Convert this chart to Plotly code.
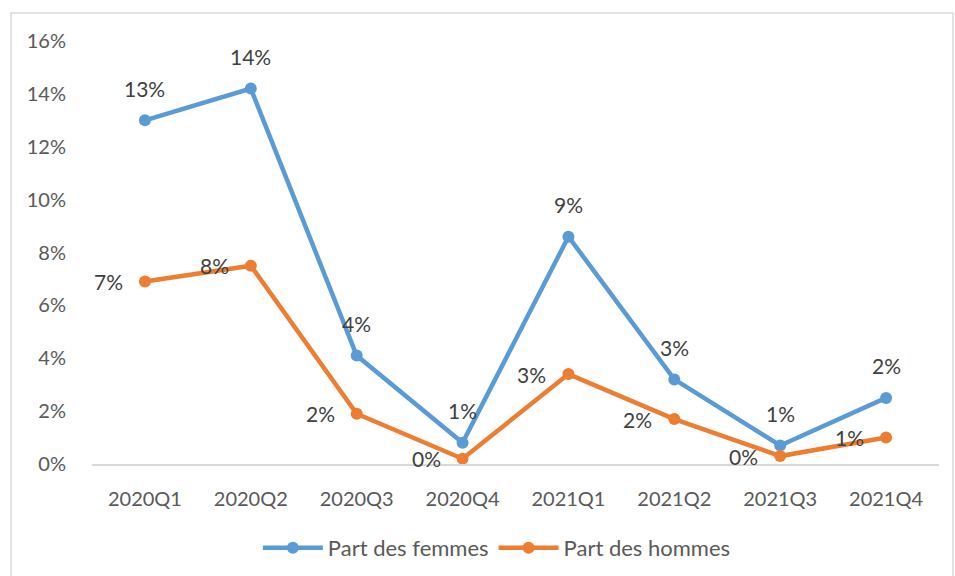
import plotly.graph_objects as go

quarters = ["2020Q1", "2020Q2", "2020Q3", "2020Q4", "2021Q1", "2021Q2", "2021Q3", "2021Q4"]
part_femmes = [0.130, 0.142, 0.041, 0.008, 0.086, 0.032, 0.007, 0.025]
part_hommes = [0.069, 0.075, 0.019, 0.002, 0.034, 0.017, 0.003, 0.010]
y_ticks = [0, 0.02, 0.04, 0.06, 0.08, 0.10, 0.12, 0.14, 0.16]

FONT = "Lato, 'Open Sans', sans-serif"
TXT = "#404040"
AX = "#595959"

fig = go.Figure()
fig.add_trace(go.Scatter(
    x=quarters, y=part_femmes, name="Part des femmes",
    mode="lines+markers",
    line=dict(color="#5B9BD5", width=4.5),
    marker=dict(color="#5B9BD5", size=12),
    cliponaxis=False,
))
fig.add_trace(go.Scatter(
    x=quarters, y=part_hommes, name="Part des hommes",
    mode="lines+markers",
    line=dict(color="#ED7D31", width=4.5),
    marker=dict(color="#ED7D31", size=12),
    cliponaxis=False,
))

annotations = []
for q, v in zip(quarters, part_femmes):
    annotations.append(dict(x=q, y=v, xref="x", yref="y", text=f"{v*100:.0f}%",
                            showarrow=False, xanchor="center", yanchor="middle",
                            yshift=32, font=dict(family=FONT, size=21, color=TXT)))
for q, v in zip(quarters, part_hommes):
    annotations.append(dict(x=q, y=v, xref="x", yref="y", text=f"{v*100:.0f}%",
                            showarrow=False, xanchor="right", yanchor="middle",
                            xshift=-20, font=dict(family=FONT, size=21, color=TXT)))

fig.update_layout(
    width=955, height=576,
    margin=dict(l=92, r=16, t=41, b=112, autoexpand=False),
    paper_bgcolor="white", plot_bgcolor="white",
    font=dict(family=FONT, size=20, color=AX),
    showlegend=True,
    legend=dict(orientation="h", x=0.478, xanchor="center",
                yref="container", y=1 - 548 / 576, yanchor="middle",
                font=dict(family=FONT, size=22, color=AX), itemwidth=60),
    xaxis=dict(showgrid=False, showline=True, linecolor="#D9D9D9", linewidth=1.5,
               ticks="", ticklabelstandoff=16, tickfont=dict(family=FONT, size=20, color=AX),
               range=[-0.5, 7.5], zeroline=False, automargin=False),
    yaxis=dict(range=[0, 0.16], tickvals=y_ticks, tickformat=".0%", showgrid=False,
               zeroline=False, showline=False, ticks="", ticklabelstandoff=25,
               tickfont=dict(family=FONT, size=20, color=AX), automargin=False),
    annotations=annotations,
    shapes=[dict(type="rect", xref="paper", yref="paper",
                 x0=(11-92)/847, x1=(953-92)/847, y0=(464-590)/423, y1=(464-13)/423,
                 line=dict(color="#D9D9D9", width=1.5), fillcolor="rgba(0,0,0,0)", layer="below")],
)

fig.write_html("out.html", config={"displayModeBar": False},
               post_script="document.body.style.margin='0';")
